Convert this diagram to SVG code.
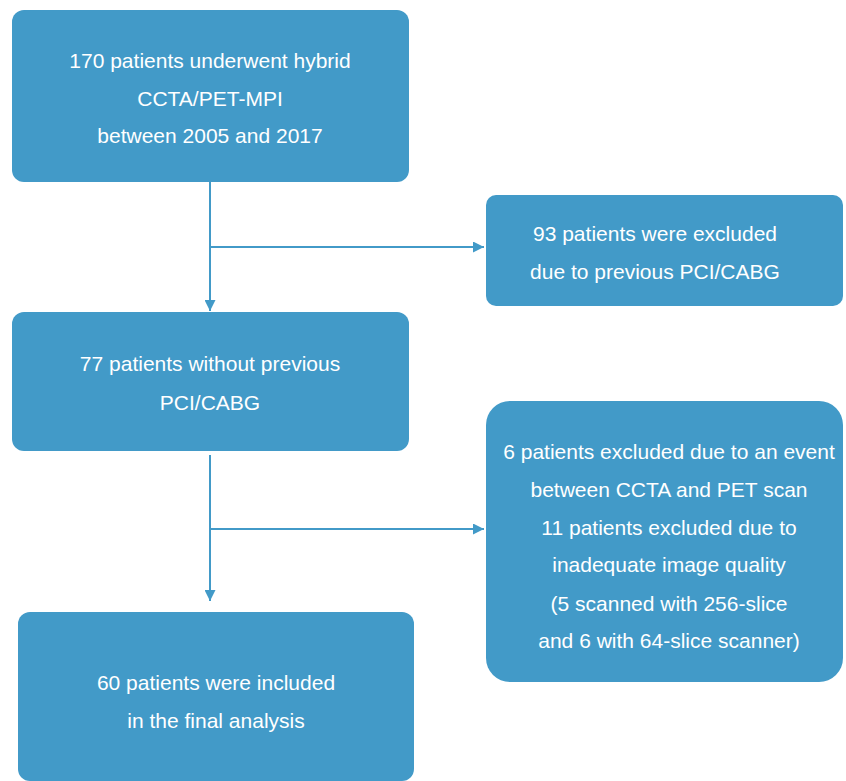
<svg xmlns="http://www.w3.org/2000/svg" width="846" height="781" viewBox="0 0 846 781">
<defs>
<style>
.box{fill:#429AC8}
.t{fill:#fff;font-family:"Liberation Sans",Arial,sans-serif;font-size:21px;text-anchor:middle}
.c{stroke:#429AC8;stroke-width:2;fill:none}
</style>
<marker id="ah" viewBox="0 0 10 10" refX="10" refY="5" markerWidth="11" markerHeight="11" markerUnits="userSpaceOnUse" orient="auto">
<path d="M0,0 L10,5 L0,10 z" fill="#429AC8"/>
</marker>
</defs>
<rect width="846" height="781" fill="#fff"/>
<g id="connectors">
<path class="c" d="M210,182 V311" marker-end="url(#ah)"/>
<path class="c" d="M210,247 H484" marker-end="url(#ah)"/>
<path class="c" d="M210,455 V601" marker-end="url(#ah)"/>
<path class="c" d="M210,529 H484" marker-end="url(#ah)"/>
</g>
<g id="n1">
<rect class="box" x="12" y="10" width="397" height="172" rx="12"/>
<text class="t" x="210" y="68">170 patients underwent hybrid</text>
<text class="t" x="210" y="106">CCTA/PET-MPI</text>
<text class="t" x="210" y="143">between 2005 and 2017</text>
</g>
<g id="n2">
<rect class="box" x="486" y="195" width="357" height="111" rx="10"/>
<text class="t" x="655" y="241">93 patients were excluded</text>
<text class="t" x="655" y="279">due to previous PCI/CABG</text>
</g>
<g id="n3">
<rect class="box" x="12" y="312" width="397" height="139" rx="12"/>
<text class="t" x="210" y="371">77 patients without previous</text>
<text class="t" x="210" y="410">PCI/CABG</text>
</g>
<g id="n4">
<rect class="box" x="486" y="401" width="357" height="281" rx="24"/>
<text class="t" x="669" y="459">6 patients excluded due to an event</text>
<text class="t" x="669" y="497">between CCTA and PET scan</text>
<text class="t" x="669" y="535">11 patients excluded due to</text>
<text class="t" x="669" y="572">inadequate image quality</text>
<text class="t" x="669" y="611">(5 scanned with 256-slice</text>
<text class="t" x="669" y="648">and 6 with 64-slice scanner)</text>
</g>
<g id="n5">
<rect class="box" x="18" y="612" width="396" height="169" rx="12"/>
<text class="t" x="216" y="690">60 patients were included</text>
<text class="t" x="216" y="728">in the final analysis</text>
</g>
</svg>
